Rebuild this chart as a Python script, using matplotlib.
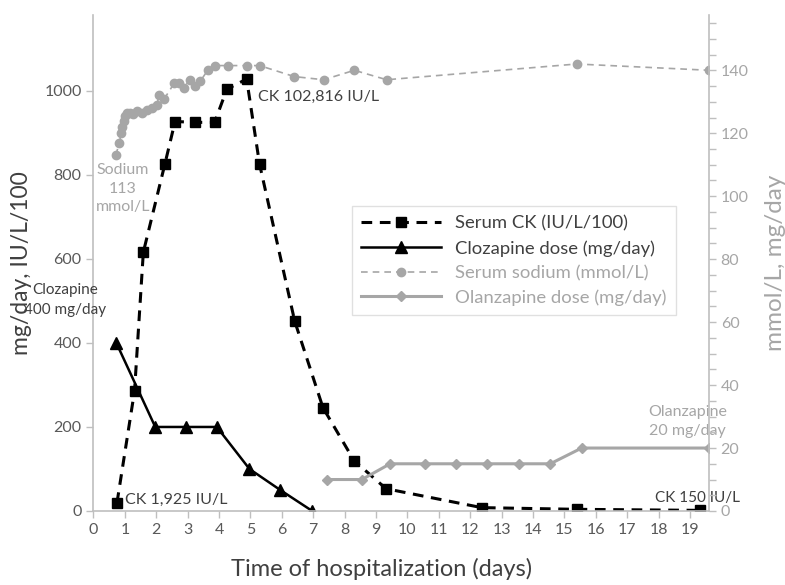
import matplotlib
matplotlib.use("Agg")
import matplotlib.pyplot as plt
from matplotlib.ticker import MultipleLocator

plt.rcParams['font.family'] = ['Lato', 'DejaVu Sans']

# serum CK, IU/L divided by 100 (left axis)
ck_days = [0.75, 1.31, 1.59, 2.28, 2.60, 3.24, 3.86, 4.25, 4.88, 5.29, 6.41, 7.31, 8.30, 9.32, 12.37, 15.39, 19.32]
ck_vals = [19.25, 286, 616, 827, 927, 925, 925, 1004, 1028, 826, 452, 246, 120, 53, 8, 4, 1.5]

# clozapine dose, mg/day (left axis)
cloz_days = [0.73, 1.97, 2.94, 3.93, 4.97, 5.95, 6.97]
cloz_vals = [400, 200, 200, 200, 100, 50, 0]

# serum sodium, mmol/L (right axis)
na_days = [0.71, 0.83, 0.88, 0.92, 0.96, 1.01, 1.06, 1.15, 1.27, 1.38, 1.54, 1.70, 1.86,
           2.02, 2.09, 2.26, 2.58, 2.73, 2.87, 3.08, 3.24, 3.40, 3.64, 3.88, 4.28, 4.88,
           5.29, 6.40, 7.33, 8.31, 9.34, 15.39, 19.62]
na_vals = [113, 117, 120, 122, 124, 125.5, 126.5, 126.5, 126, 127, 126.5, 127.5, 128,
           129, 132, 131, 136, 136, 134.5, 137, 135, 136.5, 140, 141.5, 141.5, 141.5,
           141.5, 138, 137, 140, 137, 142, 140]

# olanzapine dose, mg/day (right axis)
olz_days = [7.45, 8.55, 9.45, 10.55, 11.55, 12.55, 13.55, 14.55, 15.55, 19.62]
olz_vals = [10, 10, 15, 15, 15, 15, 15, 15, 20, 20]

dark = '#404040'
mid = '#595959'
light = '#a6a6a6'
spine = '#bfbfbf'

fig = plt.figure(figsize=(7.85, 5.85), dpi=100)
ax = fig.add_axes([0.119, 0.1265, 0.784, 0.8475])
ax2 = ax.twinx()

l1, = ax.plot(ck_days, ck_vals, color='black', ls=(0, (3.5, 2.5)), lw=2.2,
              marker='s', ms=7, label='Serum CK (IU/L/100)')
l2, = ax.plot(cloz_days, cloz_vals, color='black', lw=1.8,
              marker='^', ms=8, label='Clozapine dose (mg/day)')
l3, = ax2.plot(na_days, na_vals, color=light, ls=(0, (4, 3)), lw=1.2,
               marker='o', ms=6, label='Serum sodium (mmol/L)')
l4, = ax2.plot(olz_days, olz_vals, color=light, lw=2.2,
               marker='D', ms=5, label='Olanzapine dose (mg/day)')

ax.set_xlim(0, 19.6)
ax.set_ylim(0, 1180)
ax2.set_ylim(0, 157.5)
ax.set_xticks(range(0, 20))
ax.set_yticks(range(0, 1001, 200))
ax2.set_yticks(range(0, 141, 20))
ax2.yaxis.set_minor_locator(MultipleLocator(5))

for a in (ax, ax2):
    for s in a.spines.values():
        s.set_visible(False)
ax.spines['left'].set_visible(True)
ax.spines['bottom'].set_visible(True)
ax2.spines['right'].set_visible(True)
for s in (ax.spines['left'], ax.spines['bottom'], ax2.spines['right']):
    s.set_color(spine)
    s.set_linewidth(1.2)

ax.tick_params(axis='both', colors=spine, labelcolor=mid, labelsize=11.5, length=5, width=1)
ax2.tick_params(axis='y', which='both', colors=spine, labelcolor=light, labelsize=11.5, length=5, width=1)

ax.set_xlabel('Time of hospitalization (days)', fontsize=17, color=dark)
ax.xaxis.set_label_coords(0.469, -0.094)
ax.set_ylabel('mg/day, IU/L/100', fontsize=16.5, color=dark, labelpad=9)
ax2.set_ylabel('mmol/L, mg/day', fontsize=17.5, color=light, labelpad=12)

ax.text(5.25, 986, 'CK 102,816 IU/L', fontsize=11.5, color=dark, va='center')
ax.text(0.94, 767, 'Sodium\n113\nmmol/L', fontsize=11.5, color=light, ha='center', va='center',
        linespacing=1.4)
ax.text(-0.9, 502, 'Clozapine\n400 mg/day', fontsize=11, color=dark, ha='center', va='center',
        linespacing=1.55, clip_on=False)
ax.text(1.0, 26, 'CK 1,925 IU/L', fontsize=11.5, color=dark, va='center')
ax.text(18.93, 212, 'Olanzapine\n20 mg/day', fontsize=11.5, color=light, ha='center', va='center',
        linespacing=1.45)
ax.text(17.9, 31, 'CK 150 IU/L', fontsize=11, color=dark, va='center')

leg = ax2.legend(handles=[l1, l2, l3, l4], loc='upper left', bbox_to_anchor=(0.405, 0.633),
                 fontsize=13.3, frameon=True, fancybox=False, handlelength=4.3,
                 borderpad=0.5, labelspacing=0.45)
leg.get_frame().set_edgecolor('#d9d9d9')
leg.get_frame().set_linewidth(1)
for t, c in zip(leg.get_texts(), [dark, dark, light, light]):
    t.set_color(c)

fig.savefig('out.png', dpi=100)
